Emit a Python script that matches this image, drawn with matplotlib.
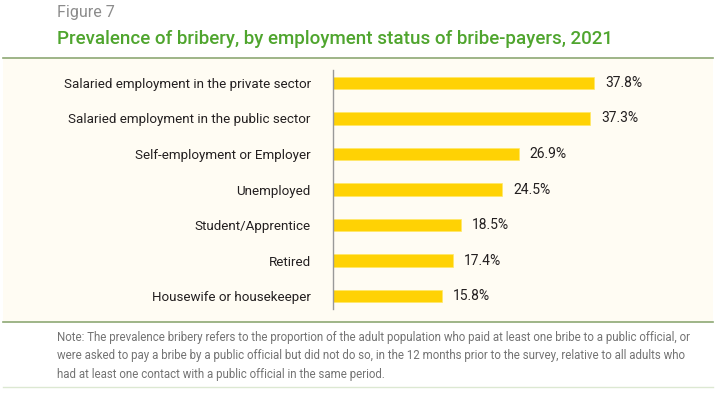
import matplotlib
matplotlib.use("Agg")
import matplotlib.pyplot as plt
from matplotlib.patches import Rectangle
from matplotlib.lines import Line2D

plt.rcParams['font.family'] = ['Roboto', 'DejaVu Sans']

# data
categories = [
    "Salaried employment in the private sector",
    "Salaried employment in the public sector",
    "Self-employment or Employer",
    "Unemployed",
    "Student/Apprentice",
    "Retired",
    "Housewife or housekeeper",
]
values = [37.8, 37.3, 26.9, 24.5, 18.5, 17.4, 15.8]
value_labels = ["37.8%", "37.3%", "26.9%", "24.5%", "18.5%", "17.4%", "15.8%"]

fig_title = "Prevalence of bribery, by employment status of bribe-payers, 2021"
fig_label = "Figure 7"
note = ("Note: The prevalence bribery refers to the proportion of the adult population who paid at least one bribe to a public official, or\n"
        "were asked to pay a bribe by a public official but did not do so, in the 12 months prior to the survey, relative to all adults who\n"
        "had at least one contact with a public official in the same period.")

W, H = 725, 420
fig = plt.figure(figsize=(W / 100, H / 100), dpi=100)
fig.patch.set_facecolor("white")

# beige panel with green rules
fig.patches.append(Rectangle((3 / W, 1 - 322 / H), 710 / W, 264 / H,
                             transform=fig.transFigure, facecolor="#FFFCF3",
                             edgecolor="none", zorder=-5))
fig.lines.append(Line2D([3 / W, 713 / W], [1 - 57.5 / H] * 2, transform=fig.transFigure,
                        color="#8DA874", lw=1.2))
fig.lines.append(Line2D([3 / W, 713 / W], [1 - 322 / H] * 2, transform=fig.transFigure,
                        color="#8DA874", lw=1.2))
fig.lines.append(Line2D([3 / W, 713 / W], [1 - 387 / H] * 2, transform=fig.transFigure,
                        color="#DCE8D2", lw=1.0))

ax = fig.add_axes([333 / W, 1 - 309 / H, 380 / W, 239 / H], zorder=2)
ax.set_facecolor("none")
y = list(range(len(categories)))
ax.barh(y, values, height=0.34, color="#FFD204", edgecolor="#FFE866", linewidth=0.5)
for yi, v, lab in zip(y, values, value_labels):
    ax.text(v + 1.6, yi, lab, va="center", ha="left", fontsize=10, color="#231F20")

ax.set_xlim(0, 380 / 6.9)
ax.set_ylim(6.366, -0.366)
ax.set_yticks(y)
ax.set_yticklabels(categories, fontsize=9.6, color="#231F20")
ax.tick_params(axis="y", length=0, pad=16)
ax.set_xticks([])
for s in ["top", "right", "bottom"]:
    ax.spines[s].set_visible(False)
ax.spines["left"].set_color("#999999")
ax.spines["left"].set_linewidth(1)

fig.text(57 / W, 1 - 12.5 / H, fig_label, fontsize=11.5, color="#8C8C8C", va="center", ha="left")
fig.text(57 / W, 1 - 39.5 / H, fig_title, fontsize=13.5, color="#4FA52E", va="center", ha="left",
         fontweight="medium")
fig.text(57 / W, 1 - 356 / H, note, fontsize=8.3, color="#737373", va="center", ha="left",
         linespacing=1.55)

fig.savefig("out.png", dpi=100, facecolor=fig.get_facecolor())
